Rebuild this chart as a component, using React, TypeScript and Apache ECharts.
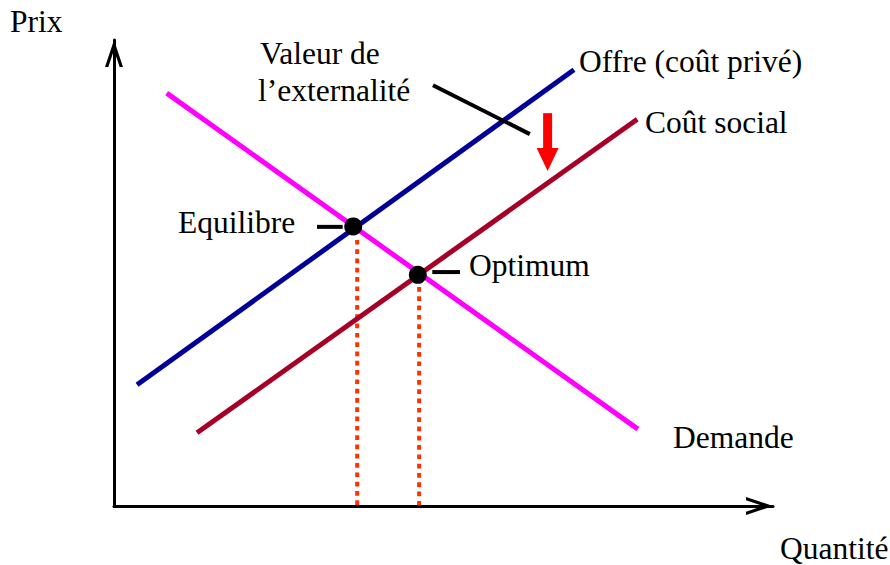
import React, { useEffect, useRef } from "react";
import * as echarts from "echarts";

// Axis ranges (arbitrary units: quantity / price)
const quantityRange = [0, 10];
const priceRange = [0, 10];

// Curves (quantity, price)
const offre = [[0.35, 2.6], [6.98, 9.36]];
const coutSocial = [[1.26, 1.57], [7.94, 8.3]];
const demande = [[0.8, 8.86], [7.95, 1.65]];

// Key points
const equilibre = [3.63, 6.0];
const optimum = [4.61, 4.96];

// Drop lines to the quantity axis
const dropEquilibre = [[3.69, 5.71], [3.69, 0]];
const dropOptimum = [[4.63, 4.7], [4.63, 0]];

// Annotation pointers
const pointerExternalite = [[4.84, 9.03], [6.31, 7.98]];
const tickEquilibre = [[3.08, 5.99], [3.47, 5.99]];
const tickOptimum = [[4.83, 5.02], [5.25, 5.02]];

// Downward shift arrow: [quantity, price top, price tip]
const shiftArrow = [[6.58, 8.43, 7.19]];

// Texts
const yAxisTitle = "Prix";
const xAxisTitle = "Quantité";
const labelOffre = "Offre (coût privé)";
const labelCoutSocial = "Coût social";
const labelDemande = "Demande";
const labelEquilibre = "Equilibre";
const labelOptimum = "Optimum";
const labelExternalite1 = "Valeur de";
const labelExternalite2 = "l\u2019externalité";

const FONT = "'Liberation Serif', 'Times New Roman', Times, serif";
const FS = 31.5;
const ARROW_PATH = "path://M0,27 L9,0 L18,27 L14.67,27 L9,10 L3.33,27 Z";

function txt(text: string, x: number, baseline: number) {
  return {
    type: "text",
    x,
    y: baseline - FS * 0.3375,
    silent: true,
    style: {
      text,
      fill: "#000",
      font: `${FS}px ${FONT}`,
      align: "left",
      verticalAlign: "middle",
    },
  };
}

function seg(data: number[][], color: string, width: number, type: any = "solid", z = 2) {
  return {
    type: "line",
    data,
    symbol: "none",
    z,
    silent: true,
    lineStyle: { color, width, type, cap: "butt", opacity: 1 },
  };
}

export default function App() {
  const ref = useRef<HTMLDivElement>(null);
  useEffect(() => {
    if (!ref.current) return;
    const chart = echarts.init(ref.current, undefined, { renderer: "svg" });
    const axisLine = {
      show: true,
      onZero: false,
      symbol: ["none", ARROW_PATH],
      symbolSize: [18, 27],
      symbolOffset: [0, -13.5],
      lineStyle: { color: "#000", width: 3 },
    };
    chart.setOption({
      animation: false,
      backgroundColor: "#fff",
      grid: { left: 114, right: 117, top: 40, bottom: 59, containLabel: false },
      xAxis: {
        type: "value",
        min: quantityRange[0],
        max: quantityRange[1],
        axisLine,
        axisTick: { show: false },
        axisLabel: { show: false },
        splitLine: { show: false },
      },
      yAxis: {
        type: "value",
        min: priceRange[0],
        max: priceRange[1],
        axisLine,
        axisTick: { show: false },
        axisLabel: { show: false },
        splitLine: { show: false },
      },
      series: [
        seg(dropEquilibre, "#FF3300", 4, [4.7, 4.6], 1),
        seg(dropOptimum, "#FF3300", 4, [4.7, 4.6], 1),
        seg(offre, "#000099", 5),
        seg(coutSocial, "#A60026", 5),
        seg(demande, "#FF00FF", 5),
        seg(pointerExternalite, "#000", 4),
        seg(tickEquilibre, "#000", 4),
        seg(tickOptimum, "#000", 4),
        {
          type: "custom",
          data: shiftArrow,
          encode: { x: 0, y: [1, 2] },
          z: 3,
          silent: true,
          renderItem: (params: any, api: any) => {
            const top = api.coord([api.value(0), api.value(1)]);
            const tip = api.coord([api.value(0), api.value(2)]);
            const headLen = 23;
            const headHalf = 11;
            const shaftHalf = 4.5;
            return {
              type: "group",
              children: [
                {
                  type: "rect",
                  shape: {
                    x: top[0] - shaftHalf,
                    y: top[1],
                    width: shaftHalf * 2,
                    height: tip[1] - headLen - top[1] + 1,
                  },
                  style: { fill: "#FF0000" },
                },
                {
                  type: "polygon",
                  shape: {
                    points: [
                      [tip[0] - headHalf, tip[1] - headLen],
                      [tip[0] + headHalf, tip[1] - headLen],
                      [tip[0], tip[1]],
                    ],
                  },
                  style: { fill: "#FF0000" },
                },
              ],
            };
          },
        },
        {
          type: "scatter",
          data: [equilibre, optimum],
          symbol: "circle",
          symbolSize: 18,
          z: 5,
          silent: true,
          itemStyle: { color: "#000", opacity: 1 },
        },
      ],
      graphic: [
        txt(yAxisTitle, 10, 32),
        txt(xAxisTitle, 780, 559),
        txt(labelExternalite1, 260, 64),
        txt(labelExternalite2, 258, 101),
        txt(labelOffre, 579, 72),
        txt(labelCoutSocial, 645, 133),
        txt(labelEquilibre, 178, 233),
        txt(labelOptimum, 469, 276),
        txt(labelDemande, 673, 448),
      ],
    });
    return () => chart.dispose();
  }, []);
  return (
    <div
      ref={ref}
      style={{ position: "fixed", left: 0, top: 0, width: 890, height: 565, background: "#fff" }}
    />
  );
}
